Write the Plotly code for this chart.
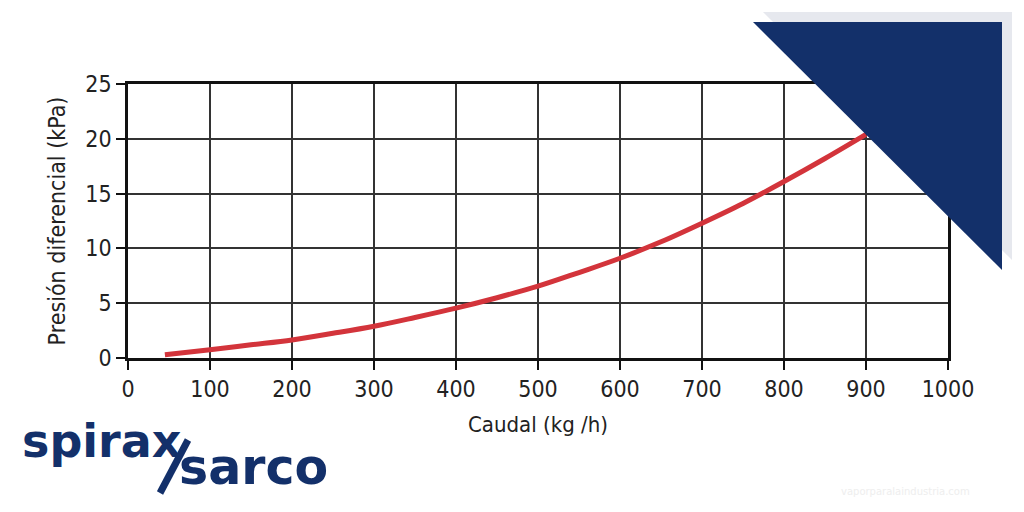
import plotly.graph_objects as go

flow = [45, 100, 150, 200, 250, 300, 350, 400, 450, 500, 550, 600, 650, 700, 750, 800, 850, 900]
dp = [0.3, 0.75, 1.2, 1.65, 2.25, 2.9, 3.7, 4.55, 5.5, 6.55, 7.8, 9.1, 10.6, 12.3, 14.1, 16.1, 18.2, 20.4]

x_ticks = [0, 100, 200, 300, 400, 500, 600, 700, 800, 900, 1000]
y_ticks = [0, 5, 10, 15, 20, 25]

W, H = 1024, 512
L, R, T, B = 128, 948, 84, 358
NAVY = "#13306a"
FONT = "Liberation Sans Narrow, DejaVu Sans Condensed, Roboto, sans-serif"


def px(x):
    return (x - L) / (R - L)


def py(y):
    return (B - y) / (B - T)


fig = go.Figure()
fig.add_trace(go.Scatter(x=flow, y=dp, mode="lines", line=dict(color="#d3343b", width=5, shape="spline"),
                         hoverinfo="skip", showlegend=False))

axis_common = dict(showline=True, linecolor="#111", linewidth=2.5, mirror=True,
                   showgrid=True, gridcolor="#333333", gridwidth=1.5,
                   ticks="outside", ticklen=9, tickcolor="#111", tickwidth=1.5,
                   tickfont=dict(family=FONT, size=23, color="#222"), zeroline=False)

fig.update_xaxes(range=[0, 1000], tickvals=x_ticks, ticktext=[str(v) for v in x_ticks],
                 title=dict(text="Caudal (kg /h)", font=dict(family=FONT, size=22, color="#222"), standoff=16),
                 **axis_common)
fig.update_yaxes(range=[0, 25], tickvals=y_ticks, ticktext=[str(v) for v in y_ticks],
                 title=dict(text="Presión diferencial (kPa)", font=dict(family=FONT, size=23, color="#222"), standoff=14),
                 **axis_common)

shapes = [
    # shadow triangle
    dict(type="path", xref="paper", yref="paper", layer="above",
         path=f"M {px(763)} {py(12)} L {px(1012)} {py(12)} L {px(1012)} {py(260)} Z",
         fillcolor="#e6e8ee", line=dict(width=0)),
    # navy triangle
    dict(type="path", xref="paper", yref="paper", layer="above",
         path=f"M {px(753)} {py(22)} L {px(1002)} {py(22)} L {px(1002)} {py(270)} Z",
         fillcolor=NAVY, line=dict(width=0)),
    # logo slash (long stroke of the x)
    dict(type="line", xref="paper", yref="paper", layer="above",
         x0=px(160), y0=py(493), x1=px(188), y1=py(440),
         line=dict(color=NAVY, width=7)),
]

annotations = [
    dict(text="<b>spirax</b>", xref="paper", yref="paper", x=px(20), y=py(470), xanchor="left", yanchor="bottom",
         showarrow=False, font=dict(family="DejaVu Sans", size=46, color=NAVY)),
    dict(text="<b>sarco</b>", xref="paper", yref="paper", x=px(177), y=py(498), xanchor="left", yanchor="bottom",
         showarrow=False, font=dict(family="DejaVu Sans", size=49, color=NAVY)),
    dict(text="vaporparalaindustria.com", xref="paper", yref="paper", x=px(905), y=py(491),
         xanchor="center", yanchor="middle", showarrow=False,
         font=dict(family="DejaVu Sans", size=10, color="#eeeeee")),
]

fig.update_layout(width=W, height=H, margin=dict(l=L, r=W - R, t=T, b=H - B),
                  paper_bgcolor="white", plot_bgcolor="white",
                  shapes=shapes, annotations=annotations, showlegend=False)

fig.write_html("out.html")
